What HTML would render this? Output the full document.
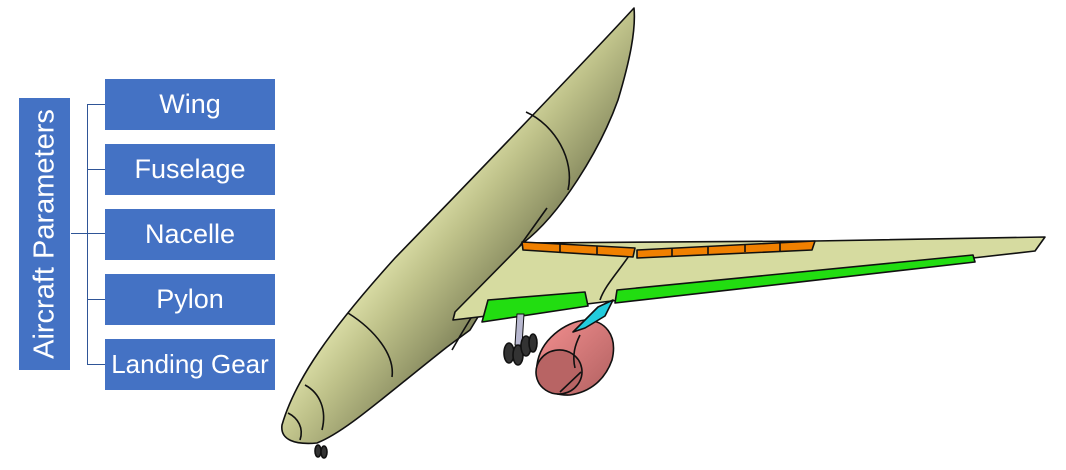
<!DOCTYPE html>
<html><head><meta charset="utf-8"><style>
html,body{margin:0;padding:0;background:#fff;}
#root{position:relative;width:1066px;height:470px;overflow:hidden;font-family:"Liberation Sans",sans-serif;}
.box{position:absolute;left:105px;width:170px;height:51px;background:#4472C4;color:#fff;font-size:27px;display:flex;align-items:center;justify-content:center;white-space:nowrap;}
#vbox{position:absolute;left:19px;top:98px;width:51px;height:272px;background:#4472C4;}
#vbox span{position:absolute;left:50%;top:50%;transform:translate(-50%,-50%) rotate(-90deg);color:#fff;font-size:29px;white-space:nowrap;}
.ln{position:absolute;background:#2F5597;}
svg{position:absolute;left:0;top:0;}
</style></head><body>
<div id="root">
<div id="vbox"><span>Aircraft Parameters</span></div>
<div class="ln" style="left:71px;top:233px;width:17px;height:1px"></div>
<div class="ln" style="left:87px;top:104px;width:1px;height:261px"></div>
<div class="ln" style="left:87px;top:104px;width:18px;height:1px"></div>
<div class="ln" style="left:87px;top:169px;width:18px;height:1px"></div>
<div class="ln" style="left:87px;top:233px;width:18px;height:1px"></div>
<div class="ln" style="left:87px;top:299px;width:18px;height:1px"></div>
<div class="ln" style="left:87px;top:364px;width:18px;height:1px"></div>
<div class="box" style="top:79px">Wing</div>
<div class="box" style="top:144px">Fuselage</div>
<div class="box" style="top:209px">Nacelle</div>
<div class="box" style="top:274px">Pylon</div>
<div class="box" style="top:339px;font-size:26px">Landing Gear</div>
<svg width="1066" height="470">
<defs>
<linearGradient id="fg" gradientUnits="userSpaceOnUse" x1="390" y1="245" x2="485" y2="322"><stop offset="0" stop-color="#dfe2ab"/><stop offset="0.35" stop-color="#bfc28a"/><stop offset="0.75" stop-color="#989b6c"/><stop offset="1" stop-color="#7c7f58"/></linearGradient>
<linearGradient id="ng" x1="0" y1="0" x2="1" y2="1"><stop offset="0" stop-color="#f49090"/><stop offset="1" stop-color="#b06060"/></linearGradient>
</defs>
<g stroke="#111" stroke-width="1.6" stroke-linejoin="round">
<path d="M634,8 C600,45 500,150 395,258 C330,330 295,380 282,425 C280,440 295,445 317,443 C345,432 380,400 447,347 L470,330 L523,243 C560,215 600,150 618,100 C630,60 636,30 634,8 Z" fill="url(#fg)"/>
<path d="M526,112 C555,125 575,160 568,190" fill="none"/>
<path d="M348,313 C375,330 395,355 392,377" fill="none"/>
<path d="M305,385 C320,393 327,410 322,430" fill="none"/>
<path d="M288,413 C298,418 304,428 300,440" fill="none"/>
<path d="M547,208 C510,260 480,300 452,350" fill="none"/>
<path d="M523,243 L815,241 L1045,237 L1035,251 L973,258 L620,300 L453,320 L455,312 Z" fill="#d6dba0"/>
<path d="M633,250 C620,270 605,285 600,300" fill="none"/>
<path d="M522,242 L635,248 L633,257 L523,250 Z" fill="#f08000"/>
<path d="M560,244 L560,252 M597,246 L597,254" fill="none"/>
<path d="M637,250 L815,241 L812,250 L637,258 Z" fill="#f08000"/>
<path d="M672,248 L672,256 M708,246 L708,254 M745,244 L745,252 M780,243 L780,251" fill="none"/>
<path d="M488,300 L585,292 L588,306 L482,322 Z" fill="#22dd11"/>
<path d="M617,290 L973,255 L975,262 L615,303 Z" fill="#22dd11"/>
<path d="M517,314 L524,314 L522,345 L515,345 Z" fill="#b8b8d0" stroke-width="1"/>
<g fill="#333">
<ellipse cx="509" cy="353" rx="5" ry="10"/><ellipse cx="518" cy="355" rx="5" ry="10"/><ellipse cx="526" cy="346" rx="5" ry="10"/><ellipse cx="533" cy="343" rx="4" ry="9"/>
<ellipse cx="318" cy="451" rx="3" ry="6"/><ellipse cx="324" cy="452" rx="3" ry="6"/>
</g>
<path d="M537,365 C540,340 565,322 585,320 C605,320 618,335 612,360 C605,380 590,392 570,395 C550,396 536,385 537,365 Z" fill="url(#ng)"/>
<ellipse cx="559" cy="372" rx="23" ry="22" fill="#b86464" transform="rotate(-10 559 372)"/>
<path d="M560,392 L581,372" fill="none"/>
<path d="M580,335 C575,345 572,355 575,368" fill="none"/>
<path d="M573,332 L598,307 L613,300 L605,316 L585,328 Z" fill="#22ccdd"/>
</g>
</svg>
</div>
</body></html>
